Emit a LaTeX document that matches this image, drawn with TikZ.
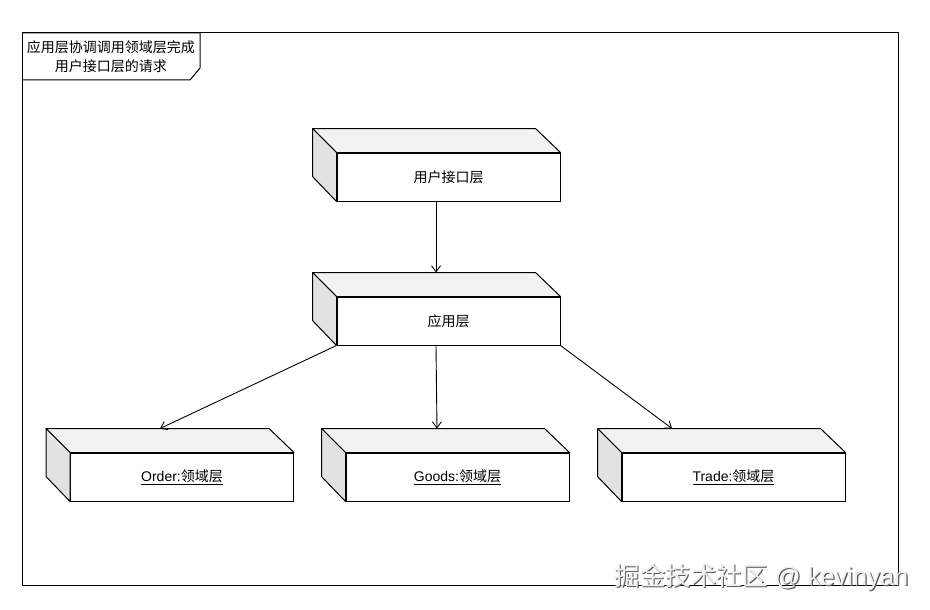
\documentclass[tikz,border=0pt]{standalone}
\usepackage{fontspec}
\setmainfont{Liberation Sans}
\newfontfamily\cjk{Noto Sans CJK SC}
\usetikzlibrary{arrows.meta,calc}
\definecolor{topc}{HTML}{F2F2F2}
\definecolor{sidec}{HTML}{E2E2E2}
\newcommand\cubebox[4]{%
  \node[box] (#1) at (#2,#3) {#4};
  \filldraw[face, fill=topc] (#1.north west) -- ++(-24,-24) -- ++(223,0) -- (#1.north east) -- cycle;
  \filldraw[face, fill=sidec] (#1.north west) -- ++(-24,-24) -- ++(0,48) -- (#1.south west) -- cycle;
}
\begin{document}
\begin{tikzpicture}[x=1pt,y=-1pt,
  box/.style={draw, fill=white, line width=1pt, minimum width=223pt, minimum height=48pt, inner sep=0pt, font=\fontsize{14}{16}\selectfont},
  face/.style={line width=1pt, line join=round},
  conn/.style={line width=0.9pt, -{Straight Barb[length=6pt,width=9pt]}},
  frameline/.style={line width=1pt}]
\useasboundingbox (0,0) rectangle (930,610);
\fill[white] (0,0) rectangle (930,610);
\draw[frameline] (22,33) rectangle (898,585);
\draw[frameline] (22,33) -- (200,33) -- (200,68) -- (190,80) -- (22,80);
\node[align=center, font=\cjk\fontsize{14}{19.5}\selectfont] (lbl) at (111,56.5) {应用层协调调用领域层完成\\用户接口层的请求};
\cubebox{ui}{448.5}{177}{\cjk 用户接口层}
\cubebox{app}{448.5}{321}{\cjk 应用层}
\cubebox{ord}{182}{477}{\underline{Order:{\cjk 领域层}}}
\cubebox{gds}{457.5}{477}{\underline{Goods:{\cjk 领域层}}}
\cubebox{trd}{733.5}{477}{\underline{Trade:{\cjk 领域层}}}
\coordinate (uiS) at ($(ui.south)+(-12.5,0)$);
\coordinate (appT) at ($(app.north)+(-12.5,-24)$);
\coordinate (appS) at ($(app.south)+(-12.5,0)$);
\coordinate (ordT) at ($(ord.north)+(-22,-24)$);
\coordinate (gdsT) at ($(gds.north)+(-20.5,-24)$);
\coordinate (trdT) at ($(trd.north)+(-61.5,-24)$);
\draw[conn] (uiS) -- (appT);
\draw[conn] (app.south west) -- (ordT);
\draw[conn] (appS) -- (gdsT);
\draw[conn] (app.south east) -- (trdT);
\node[anchor=east, text=gray!70!black, font=\fontsize{25.5}{28}\selectfont] (wm0) at (913.2,578.2) {{\cjk 掘金技术社区} @ kevinyan};
\node[anchor=east, text=gray!12, font=\fontsize{25.5}{28}\selectfont] (wm) at (912,577) {{\cjk 掘金技术社区} @ kevinyan};
\end{tikzpicture}
\end{document}
